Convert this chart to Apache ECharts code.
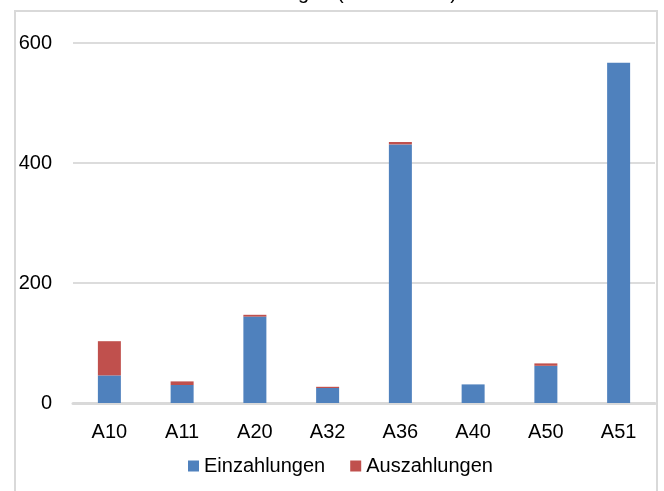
<!DOCTYPE html>
<html>
<head>
<meta charset="utf-8">
<script src="https://cdn.jsdelivr.net/npm/echarts@6/dist/echarts.min.js"></script>
<style>
  html, body { margin: 0; padding: 0; background: #ffffff; }
  #chart { width: 664px; height: 491px; }
</style>
</head>
<body>
<div id="chart"></div>
<script>
// Accounts and their flows
const categories = ['A10', 'A11', 'A20', 'A32', 'A36', 'A40', 'A50', 'A51'];
const einzahlungen = [46, 30, 144, 25, 431, 31, 62, 567];
const auszahlungen = [57, 6, 3, 2, 4, 0, 4, 0];
const yTicks = [0, 200, 400, 600];
const titleText = 'Ein- und Auszahlungen (in Mio. EUR)';

const FONT = '"Liberation Sans", Arial, sans-serif';
const BLUE = '#4F81BD';
const RED = '#C0504D';

const chart = echarts.init(document.getElementById('chart'), null, { renderer: 'canvas' });

chart.setOption({
  animation: false,
  backgroundColor: '#ffffff',
  textStyle: { fontFamily: FONT },
  graphic: [
    {
      type: 'rect',
      shape: { x: 15, y: 11, width: 642, height: 520 },
      style: { fill: 'none', stroke: '#d9d9d9', lineWidth: 2 },
      z: 0
    },
    {
      type: 'text',
      x: 457,
      y: 3,
      style: {
        text: titleText,
        fill: '#000000',
        font: '20px ' + FONT,
        textAlign: 'right',
        textVerticalAlign: 'bottom'
      }
    }
  ],
  grid: { left: 73, right: 9, top: 43, bottom: 88 },
  legend: {
    data: ['Einzahlungen', 'Auszahlungen'],
    left: 183,
    top: 451,
    itemWidth: 11,
    itemHeight: 11,
    itemGap: 25,
    icon: 'rect',
    textStyle: { fontFamily: FONT, fontSize: 20, color: '#000000' }
  },
  xAxis: {
    type: 'category',
    data: categories,
    axisLine: { show: true, lineStyle: { color: '#d9d9d9', width: 3 } },
    axisTick: { show: false },
    axisLabel: { color: '#000000', fontFamily: FONT, fontSize: 20, margin: 19 }
  },
  yAxis: {
    type: 'value',
    min: yTicks[0],
    max: yTicks[yTicks.length - 1],
    interval: 200,
    axisLine: { show: false },
    axisTick: { show: false },
    splitLine: { lineStyle: { color: '#dcdcdc', width: 2 } },
    axisLabel: { color: '#000000', fontFamily: FONT, fontSize: 20, margin: 21, padding: [0, 0, 4, 0] }
  },
  series: [
    {
      name: 'Einzahlungen',
      type: 'bar',
      stack: 'total',
      data: einzahlungen,
      barWidth: 23,
      itemStyle: { color: BLUE }
    },
    {
      name: 'Auszahlungen',
      type: 'bar',
      stack: 'total',
      data: auszahlungen,
      barWidth: 23,
      itemStyle: { color: RED }
    }
  ]
});
</script>
</body>
</html>
